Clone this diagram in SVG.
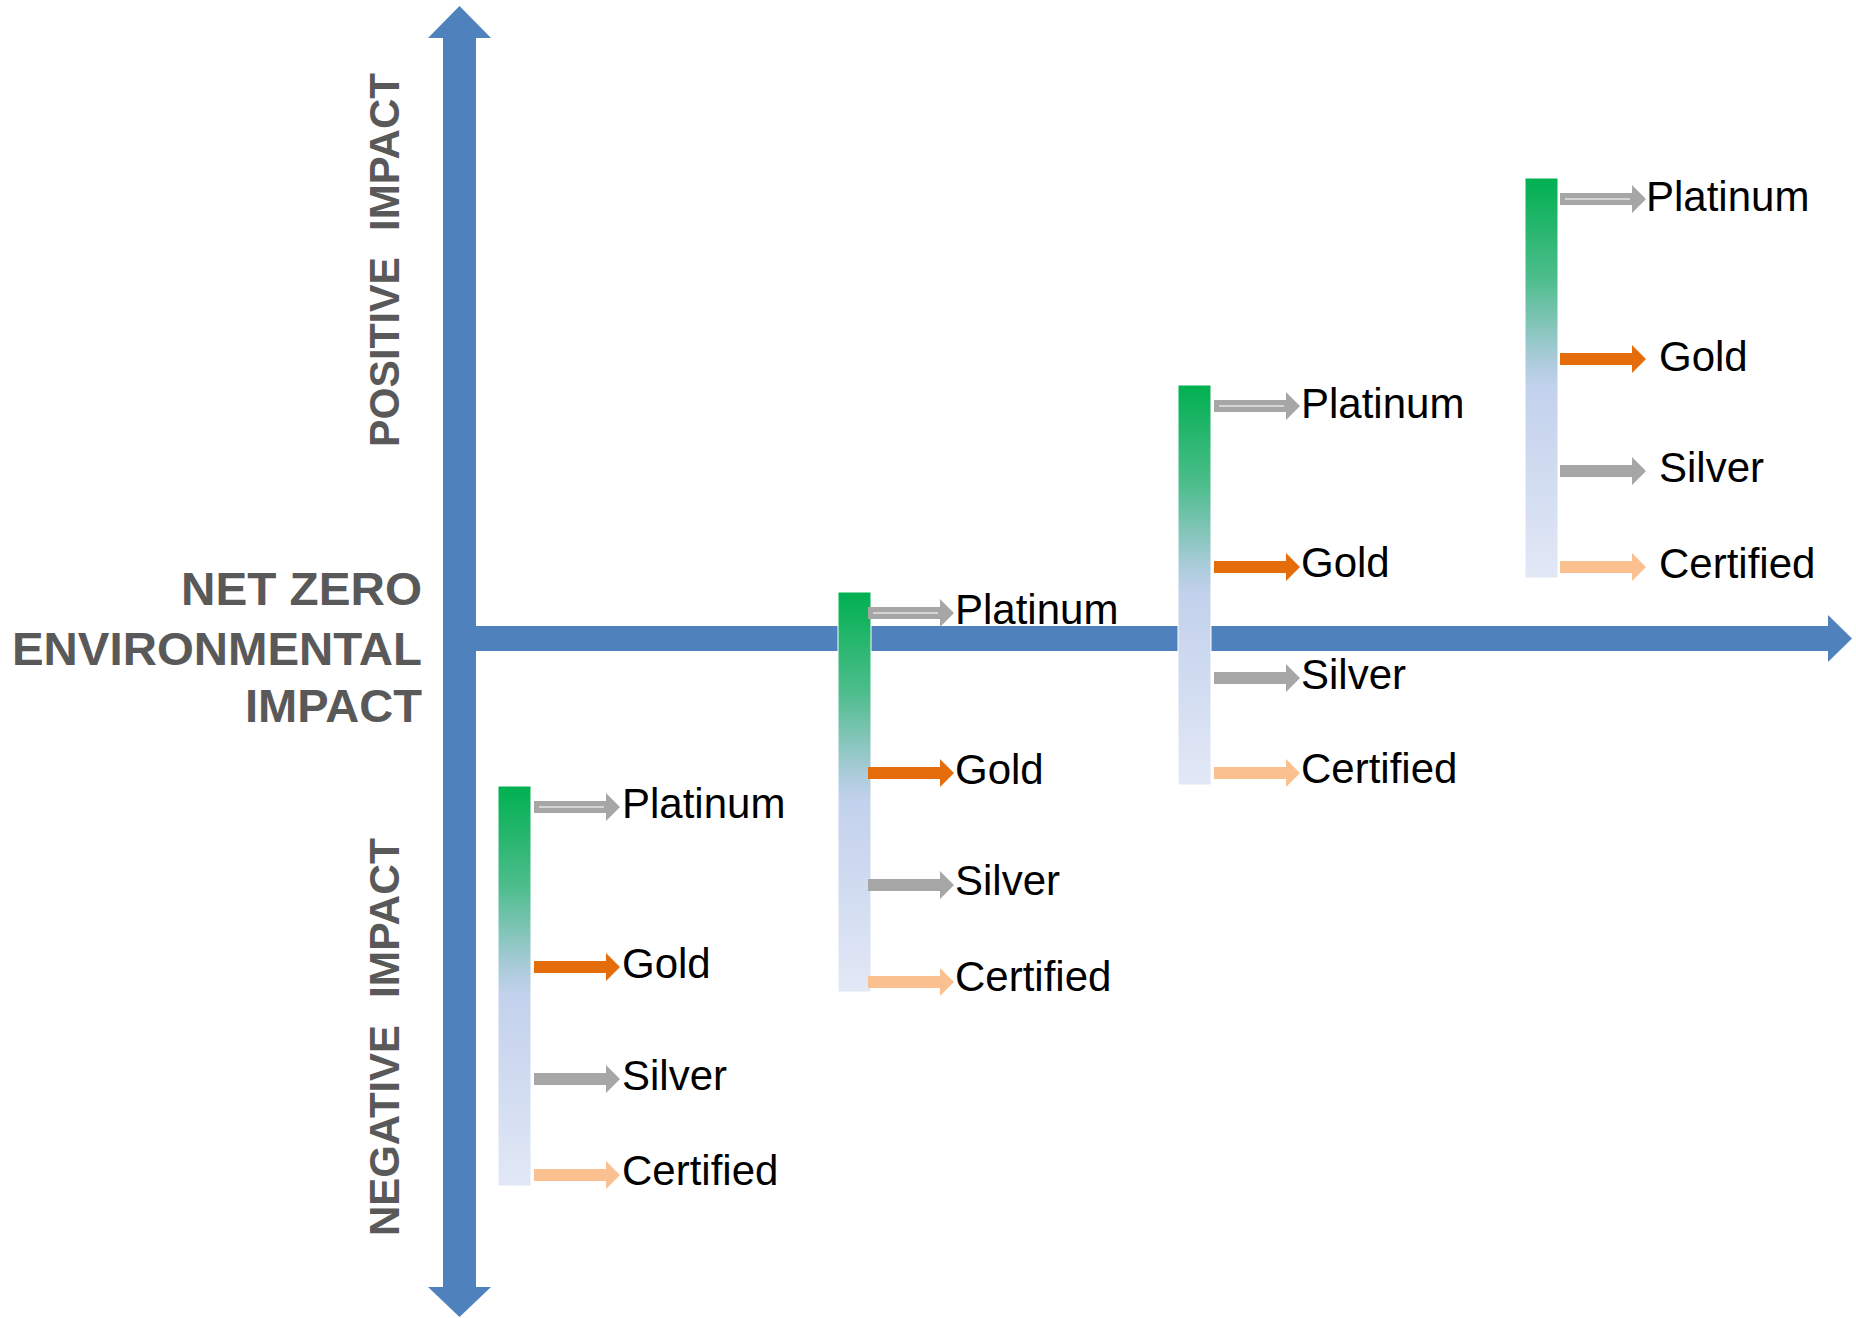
<svg xmlns="http://www.w3.org/2000/svg" width="1856" height="1318" viewBox="0 0 1856 1318">
<style>
.axis{fill:#4f81bd}
.bar{fill:url(#g);stroke:#ffffff;stroke-width:1}
.plat{fill:#a6a6a6}
.pin{stroke:#d4d4d4;stroke-width:2}
.gold{fill:#e46c0a}
.silv{fill:#a6a6a6}
.cert{fill:#fac090}
.lbl{font-family:"Liberation Sans",Arial,sans-serif;font-size:42px;fill:#000}
.ax{font-family:"Liberation Sans",Arial,sans-serif;font-weight:bold;fill:#595959}
</style>
<defs>
<linearGradient id="g" x1="0" y1="0" x2="0" y2="1">
<stop offset="0" stop-color="#00b050"/>
<stop offset="0.25" stop-color="#4dbd8c"/>
<stop offset="0.45" stop-color="#a9cbd9"/>
<stop offset="0.52" stop-color="#c2d1ec"/>
<stop offset="1" stop-color="#e2e8f6"/>
</linearGradient>
<path id="arr" d="M0,-6 H72 V-14 L86,0 L72,14 V6 H0 Z"/>
</defs>
<rect width="1856" height="1318" fill="#fff"/>
<g id="connectors">
<rect class="axis" x="443" y="37" width="33" height="1251"/>
<polygon class="axis" points="428,38 459.5,6 491,38"/>
<polygon class="axis" points="428,1287 459.5,1317 491,1287"/>
<rect class="axis" x="476" y="626" width="1353" height="25"/>
<polygon class="axis" points="1828,615 1852,638.5 1828,662"/>
</g>
<g id="labels">
<text class="ax" font-size="46" x="181" y="605" textLength="241" lengthAdjust="spacingAndGlyphs">NET ZERO</text>
<text class="ax" font-size="46" x="12" y="665" textLength="410" lengthAdjust="spacingAndGlyphs">ENVIRONMENTAL</text>
<text class="ax" font-size="46" x="245" y="722" textLength="177" lengthAdjust="spacingAndGlyphs">IMPACT</text>
<g transform="translate(399,0) rotate(-90)">
<text class="ax" font-size="42" x="-447" y="0" textLength="190" lengthAdjust="spacingAndGlyphs">POSITIVE</text>
<text class="ax" font-size="42" x="-231" y="0" textLength="158" lengthAdjust="spacingAndGlyphs">IMPACT</text>
<text class="ax" font-size="42" x="-1236" y="0" textLength="211" lengthAdjust="spacingAndGlyphs">NEGATIVE</text>
<text class="ax" font-size="42" x="-998" y="0" textLength="160" lengthAdjust="spacingAndGlyphs">IMPACT</text>
</g>
</g>
<g id="node1">
<rect class="bar" x="498" y="786" width="33" height="400"/>
<use href="#arr" class="plat" x="534" y="807"/>
<line class="pin" x1="539" y1="807" x2="604" y2="807"/>
<use href="#arr" class="gold" x="534" y="967"/>
<use href="#arr" class="silv" x="534" y="1079"/>
<use href="#arr" class="cert" x="534" y="1175"/>
<text class="lbl" x="622" y="818">Platinum</text>
<text class="lbl" x="622" y="978">Gold</text>
<text class="lbl" x="622" y="1090">Silver</text>
<text class="lbl" x="622" y="1185">Certified</text>
</g>
<g id="node2">
<rect class="bar" x="838" y="592" width="33" height="400"/>
<use href="#arr" class="plat" x="868" y="613"/>
<line class="pin" x1="873" y1="613" x2="938" y2="613"/>
<use href="#arr" class="gold" x="868" y="773"/>
<use href="#arr" class="silv" x="868" y="885"/>
<use href="#arr" class="cert" x="868" y="982"/>
<text class="lbl" x="955" y="624">Platinum</text>
<text class="lbl" x="955" y="784">Gold</text>
<text class="lbl" x="955" y="895">Silver</text>
<text class="lbl" x="955" y="991">Certified</text>
</g>
<g id="node3">
<rect class="bar" x="1178" y="385" width="33" height="400"/>
<use href="#arr" class="plat" x="1214" y="406"/>
<line class="pin" x1="1219" y1="406" x2="1284" y2="406"/>
<use href="#arr" class="gold" x="1214" y="567"/>
<use href="#arr" class="silv" x="1214" y="678"/>
<use href="#arr" class="cert" x="1214" y="773"/>
<text class="lbl" x="1301" y="418">Platinum</text>
<text class="lbl" x="1301" y="577">Gold</text>
<text class="lbl" x="1301" y="689">Silver</text>
<text class="lbl" x="1301" y="783">Certified</text>
</g>
<g id="node4">
<rect class="bar" x="1525" y="178" width="33" height="400"/>
<use href="#arr" class="plat" x="1560" y="199"/>
<line class="pin" x1="1565" y1="199" x2="1630" y2="199"/>
<use href="#arr" class="gold" x="1560" y="359"/>
<use href="#arr" class="silv" x="1560" y="471"/>
<use href="#arr" class="cert" x="1560" y="567"/>
<text class="lbl" x="1646" y="211">Platinum</text>
<text class="lbl" x="1659" y="371">Gold</text>
<text class="lbl" x="1659" y="482">Silver</text>
<text class="lbl" x="1659" y="578">Certified</text>
</g>
</svg>
